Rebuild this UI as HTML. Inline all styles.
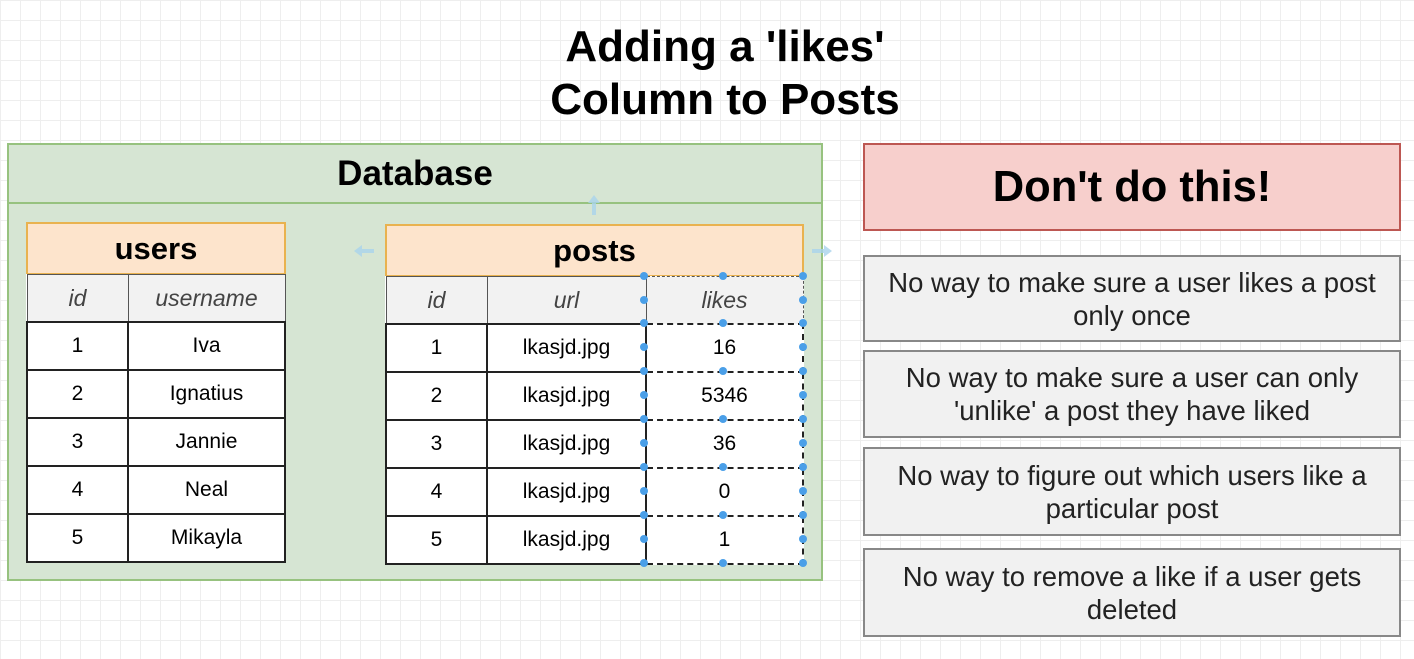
<!DOCTYPE html>
<html><head><style>
body{margin:0;width:1414px;height:659px;overflow:hidden;background:#fff;
background-image:linear-gradient(#eeeeee 1px,transparent 1px),linear-gradient(90deg,#eeeeee 1px,transparent 1px);background-size:20px 20px;
font-family:"Liberation Sans",sans-serif;position:relative}
.a{position:absolute;box-sizing:border-box}
.t{display:flex;align-items:center;justify-content:center;text-align:center}
table{border-collapse:collapse;position:absolute;background:#fff}
td{border:2px solid #222;text-align:center;font-size:21px;height:46px;padding:0}
th{border:1px solid #555;background:#f2f2f2;font-style:italic;font-weight:normal;color:#444;font-size:23px;height:46px;padding:0}
.g{background:#f1f1f1;border:2px solid #888;font-size:27.5px;color:#222;line-height:33px}
</style></head><body>
<div class="a t" style="left:425px;top:20px;width:600px;height:106px;font-weight:bold;font-size:44px;line-height:53px">Adding a 'likes'<br>Column to Posts</div>
<div class="a" style="left:7px;top:143px;width:816px;height:438px;background:#d6e5d3;border:2px solid #97c27f"></div>
<div class="a t" style="left:7px;top:143px;width:816px;height:61px;border:2px solid #97c27f;font-weight:bold;font-size:35px">Database</div>
<div class="a t" style="left:26px;top:222px;width:260px;height:53px;background:#fde4cc;border:2px solid #e9b24f;font-weight:bold;font-size:31px">users</div>
<table style="left:26px;top:274px;width:260px">
<tr><th style="width:100px">id</th><th>username</th></tr>
<tr><td>1</td><td>Iva</td></tr><tr><td>2</td><td>Ignatius</td></tr><tr><td>3</td><td>Jannie</td></tr><tr><td>4</td><td>Neal</td></tr><tr><td>5</td><td>Mikayla</td></tr>
</table>
<div class="a t" style="left:385px;top:224px;width:419px;height:53px;background:#fde4cc;border:2px solid #e9b24f;font-weight:bold;font-size:31px">posts</div>
<table style="left:385px;top:276px;width:419px">
<tr><th style="width:100px">id</th><th style="width:158px">url</th><th style="border-style:dashed">likes</th></tr>
<tr><td>1</td><td>lkasjd.jpg</td><td style="border-style:dashed">16</td></tr>
<tr><td>2</td><td>lkasjd.jpg</td><td style="border-style:dashed">5346</td></tr>
<tr><td>3</td><td>lkasjd.jpg</td><td style="border-style:dashed">36</td></tr>
<tr><td>4</td><td>lkasjd.jpg</td><td style="border-style:dashed">0</td></tr>
<tr><td>5</td><td>lkasjd.jpg</td><td style="border-style:dashed">1</td></tr>
</table>
<svg class="a" style="left:0;top:0" width="1414" height="659">
<g fill="#4a9fe8">
<circle cx="644" cy="276" r="4"/><circle cx="723" cy="276" r="4"/><circle cx="803" cy="276" r="4"/>
<circle cx="644" cy="300" r="4"/><circle cx="803" cy="300" r="4"/>
<circle cx="644" cy="323" r="4"/><circle cx="723" cy="323" r="4"/><circle cx="803" cy="323" r="4"/>
<circle cx="644" cy="347" r="4"/><circle cx="803" cy="347" r="4"/>
<circle cx="644" cy="371" r="4"/><circle cx="723" cy="371" r="4"/><circle cx="803" cy="371" r="4"/>
<circle cx="644" cy="395" r="4"/><circle cx="803" cy="395" r="4"/>
<circle cx="644" cy="419" r="4"/><circle cx="723" cy="419" r="4"/><circle cx="803" cy="419" r="4"/>
<circle cx="644" cy="443" r="4"/><circle cx="803" cy="443" r="4"/>
<circle cx="644" cy="467" r="4"/><circle cx="723" cy="467" r="4"/><circle cx="803" cy="467" r="4"/>
<circle cx="644" cy="491" r="4"/><circle cx="803" cy="491" r="4"/>
<circle cx="644" cy="515" r="4"/><circle cx="723" cy="515" r="4"/><circle cx="803" cy="515" r="4"/>
<circle cx="644" cy="539" r="4"/><circle cx="803" cy="539" r="4"/>
<circle cx="644" cy="563" r="4"/><circle cx="723" cy="563" r="4"/><circle cx="803" cy="563" r="4"/>
</g>
<g fill="#a9d3ec" opacity="0.8">
<path d="M594 195l-6 8h4v12h4v-12h4z"/><path d="M354 251l8-6v4h12v4h-12v4z"/><path d="M832 251l-8-6v4h-12v4h12v4z"/>
</g>
</svg>
<div class="a t" style="left:863px;top:143px;width:538px;height:88px;background:#f7cfcc;border:2px solid #bd5752;font-weight:bold;font-size:43.5px">Don't do this!</div>
<div class="a t g" style="left:863px;top:255px;width:538px;height:87px">No way to make sure a user likes a post<br>only once</div>
<div class="a t g" style="left:863px;top:350px;width:538px;height:88px">No way to make sure a user can only<br>'unlike' a post they have liked</div>
<div class="a t g" style="left:863px;top:447px;width:538px;height:89px">No way to figure out which users like a<br>particular post</div>
<div class="a t g" style="left:863px;top:548px;width:538px;height:89px">No way to remove a like if a user gets<br>deleted</div>
</body></html>
